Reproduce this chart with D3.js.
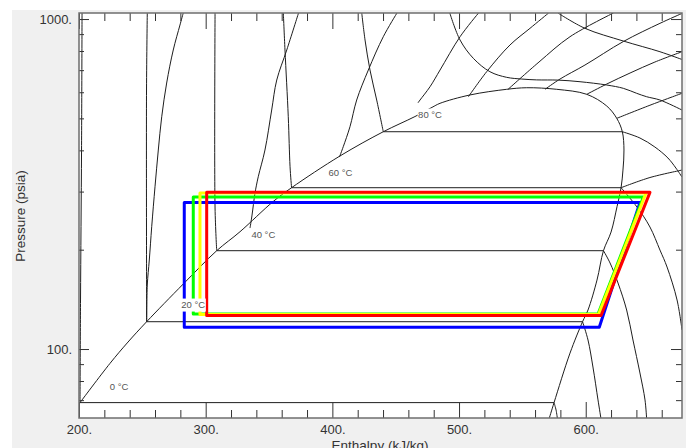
<!DOCTYPE html>
<html>
<head>
<meta charset="utf-8">
<title>Pressure–Enthalpy diagram</title>
<script src="https://cdn.jsdelivr.net/npm/d3@7/dist/d3.min.js"></script>
<style>
  html, body { margin: 0; padding: 0; background: #ffffff; }
  svg { display: block; font-family: "Liberation Sans", Arial, sans-serif; }
</style>
</head>
<body>
<svg id="chart" width="691" height="448"></svg>
<script>
// ---- axis extents and ticks ----
const enthalpyRange = [200, 676];      // kJ/kg
const pressureRange = [61.8, 1043];    // psia
const enthalpyMajorTicks = [200, 300, 400, 500, 600];
const enthalpyMinorTicks = [220, 240, 260, 280, 320, 340, 360, 380, 420, 440, 460, 480,
                            520, 540, 560, 580, 620, 640, 660];
const pressureMajorTicks = [100, 1000];
const pressureMinorTicks = [70, 80, 90, 200, 300, 400, 500, 600, 700, 800, 900];

// ---- saturation dome, [enthalpy, pressure] ----
const saturationDome = [
  [200.8, 68.8], [224.5, 90.5], [238.7, 105], [253.4, 121], [282.3, 157.4], [308.7, 198.6],
  [327.1, 226.7], [353.1, 279.5], [367.8, 308.2], [406, 384.6], [440.2, 455.5], [465.2, 506.4],
  [478.7, 540], [485, 555.4], [508.7, 588.8], [537.6, 612.4], [553.4, 619.2], [577.1, 612.4],
  [600.8, 591.4], [616.6, 545], [624.5, 500.1], [628.9, 455.5], [630.2, 400.9], [629.4, 348.6],
  [627.9, 308.2], [624.7, 269.9], [620, 226.2], [614, 198.6], [608.9, 161.8], [601.8, 131.3],
  [597.5, 121], [587.6, 97.2], [575, 68.8], [571, 61.3]
];

// ---- isotherms (liquid branch, two-phase plateau, vapour branch) ----
const isotherm0 = [[202.4, 1043], [202, 400.9], [201.2, 140.8], [200.8, 68.8],
  [575, 68.8], [576.6, 65.3], [577.7, 61.3]];
const isotherm20 = [[253.9, 1043], [253.3, 609.4], [253.4, 121],
  [597.5, 121], [601.8, 106.5], [605.7, 88.2], [609.7, 70.1], [612.1, 61.3]];
const isotherm40 = [[307.4, 1043], [307.4, 267.5], [308.7, 198.6],
  [614, 198.6], [619.2, 182.3], [625.5, 158.5], [632.3, 131.3], [637.3, 106.5], [642.8, 84.6],
  [646.8, 70.1], [648.1, 61.3]];
const isotherm60 = [[361.3, 1043], [362.6, 805.6], [365.2, 505.7], [366.6, 356.7], [367.8, 308.2],
  [627.9, 308.2], [640.5, 269.3], [650.7, 234.3], [658.6, 199.5], [664.2, 177.2], [672.1, 140.8],
  [676, 114.2]];
const isotherm80 = [[423.2, 1043], [425.8, 863.8], [429.7, 700.6], [435, 568.3], [440.2, 455.5],
  [628.9, 455.5], [642.8, 436], [654.6, 409.4], [664.9, 379.2], [671.2, 353.5], [676, 332]];
const isotherm100 = [[492.7, 1043], [500.8, 863.8], [511.3, 760.1], [524.4, 692.4], [537.6, 665.8],
  [549.5, 657.9], [561.3, 654], [578.4, 653], [595.5, 645.7], [616.6, 631], [629.7, 616.6],
  [640.2, 595.6], [648.1, 581.5], [658.6, 568.3], [676, 530]];
const isotherm120 = [[578.1, 1043], [599.4, 937.2], [629.7, 857.7], [658.6, 796], [676, 754]];

// ---- isentropes ----
const isentrope1 = [[282.3, 1043], [279.7, 959], [274.4, 805.6], [269.2, 639.9], [265.3, 505.7],
  [262.6, 400.9], [260, 310.3], [257.4, 234.8], [255.5, 186.1], [253.9, 156.3], [253.4, 121]];
const isentrope2 = [[373.3, 1043], [364, 805.6], [356.1, 653.4], [352.1, 530], [346.8, 400.9],
  [341.5, 332.7], [338.9, 296.3], [336.6, 254.7], [335, 232.6]];
const isentrope3 = [[451, 1043], [440.2, 884], [428.4, 700.6], [419.2, 568.3], [413.9, 471.7],
  [408.6, 410.3], [405.6, 381.8]];
const isentrope4 = [[515.4, 1043], [500.8, 884], [485, 700.6], [477.1, 623.6], [469.2, 568.3],
  [467.6, 557.3]];
const isentrope5 = [[507.4, 581.5], [521.8, 692.4], [540.2, 834.2], [556, 937.2], [570.7, 1043]];
const isentrope6 = [[538.7, 612.4], [563.1, 740.8], [587.6, 884], [621.9, 1043]];
const isentrope7 = [[567.9, 612.4], [579.7, 657.9], [599.4, 725.4], [629.7, 854.8], [658.6, 970.4],
  [676, 1040]];
const isentrope8 = [[600.8, 591.4], [616.6, 635.4], [635, 686.1], [654.6, 740.8], [676, 796]];
const isentrope9 = [[624.5, 500.1], [650.7, 548], [676, 595.6]];
const isentrope10 = [[627.9, 308.2], [650.7, 330.9], [676, 348.6]];

// ---- refrigeration cycles, corner states ----
const cycleBlue   = [[283.1, 116.4], [283.1, 278],   [642.8, 278],   [610.7, 116.4]];
const cycleGreen  = [[290.2, 127.6], [290.2, 288.8], [645.5, 288.8], [609.7, 127.6]];
const cycleYellow = [[295.5, 127.2], [295.5, 296.9], [647.6, 296.9], [610.1, 127.2]];
const cycleRed    = [[300.8, 126.3], [300.8, 298.4], [650.7, 298.4], [612.1, 126.3]];

// ---- temperature labels ----
const tempLabels = ["0 °C", "20 °C", "40 °C", "60 °C", "80 °C"];
const tempLabelH = [231.6, 290.2, 345.5, 406.4, 477.1];
const tempLabelP = [76.7, 135.9, 222.6, 342.6, 511.7];

// ---------------------------------------------------------------
const svg = d3.select("#chart");
const W = 691, H = 448;
const plot = { left: 79, right: 682, top: 13, bottom: 418 };

const x = d3.scaleLinear().domain(enthalpyRange).range([plot.left, plot.right]);
const y = d3.scaleLog().domain(pressureRange).range([plot.bottom, plot.top]);

// window panel and plotting area
svg.append("rect").attr("x", 0).attr("y", 0).attr("width", W).attr("height", H).attr("fill", "#ffffff");
svg.append("rect").attr("x", 12).attr("y", 10).attr("width", 674).attr("height", H - 10).attr("fill", "#f0f0f0");
svg.append("rect").attr("x", plot.left).attr("y", plot.top)
  .attr("width", plot.right - plot.left).attr("height", plot.bottom - plot.top).attr("fill", "#ffffff");

svg.append("clipPath").attr("id", "plotClip").append("rect")
  .attr("x", plot.left).attr("y", plot.top)
  .attr("width", plot.right - plot.left).attr("height", plot.bottom - plot.top);

const body = svg.append("g").attr("clip-path", "url(#plotClip)");

const smooth = d3.line().x(d => x(d[0])).y(d => y(d[1])).curve(d3.curveCatmullRom.alpha(0.5));
const straight = d3.line().x(d => x(d[0])).y(d => y(d[1]));

function drawCurve(pts) {
  body.append("path").attr("d", pts.length > 2 ? smooth(pts) : straight(pts))
    .attr("fill", "none").attr("stroke", "#1e1e1e").attr("stroke-width", 1);
}

// an isotherm is split at its constant-pressure plateau so the knees stay sharp
function drawIsotherm(pts) {
  for (let i = 0; i < pts.length - 1; i++) {
    if (pts[i][1] === pts[i + 1][1]) {
      drawCurve(pts.slice(0, i + 1));
      drawCurve(pts.slice(i, i + 2));
      drawCurve(pts.slice(i + 1));
      return;
    }
  }
  drawCurve(pts);
}

drawCurve(saturationDome);
[isotherm0, isotherm20, isotherm40, isotherm60, isotherm80, isotherm100, isotherm120].forEach(drawIsotherm);
[isentrope1, isentrope2, isentrope3, isentrope4, isentrope5, isentrope6, isentrope7,
 isentrope8, isentrope9, isentrope10].forEach(drawCurve);

// cycles
const closed = d3.line().x(d => x(d[0])).y(d => y(d[1])).curve(d3.curveLinearClosed);
const cycles = [
  { pts: cycleBlue, color: "#0000ff" },
  { pts: cycleGreen, color: "#00ff00" },
  { pts: cycleYellow, color: "#ffff00" },
  { pts: cycleRed, color: "#ff0000" }
];
cycles.forEach(c => {
  body.append("path").attr("d", closed(c.pts))
    .attr("fill", "none").attr("stroke", c.color)
    .attr("stroke-width", 3).attr("stroke-linejoin", "round");
});

// temperature labels on white boxes
tempLabels.forEach((t, i) => {
  const g = body.append("g");
  const txt = g.append("text")
    .attr("x", x(tempLabelH[i])).attr("y", y(tempLabelP[i]))
    .attr("text-anchor", "middle").attr("dy", "0.35em")
    .attr("font-size", 9.5).attr("fill", "#555555")
    .text(t);
  const bb = txt.node().getBBox();
  g.insert("rect", "text")
    .attr("x", bb.x - 0.5).attr("y", y(tempLabelP[i]) - 6.5)
    .attr("width", bb.width + 1).attr("height", 13)
    .attr("fill", "#ffffff");
});

// axes: ticks point inward on all four sides
function styleAxis(g) {
  g.selectAll(".tick line").attr("stroke", "#333333");
  g.selectAll(".tick text").attr("fill", "#333333").attr("font-size", 13)
    .attr("font-family", "'Liberation Sans', Arial, sans-serif");
  g.select(".domain").remove();
}
const fmt = d => d + ".";

const axisB = svg.append("g").attr("transform", `translate(0,${plot.bottom})`);
axisB.append("g").call(d3.axisBottom(x).tickValues(enthalpyMajorTicks).tickSize(-16).tickPadding(7).tickFormat(fmt)).call(styleAxis);
axisB.append("g").call(d3.axisBottom(x).tickValues(enthalpyMinorTicks).tickSize(-8).tickFormat("")).call(styleAxis);

const axisT = svg.append("g").attr("transform", `translate(0,${plot.top})`);
axisT.append("g").call(d3.axisTop(x).tickValues(enthalpyMajorTicks).tickSize(-16).tickFormat("")).call(styleAxis);
axisT.append("g").call(d3.axisTop(x).tickValues(enthalpyMinorTicks).tickSize(-8).tickFormat("")).call(styleAxis);

const axisL = svg.append("g").attr("transform", `translate(${plot.left},0)`);
axisL.append("g").call(d3.axisLeft(y).tickValues(pressureMajorTicks).tickSize(-10).tickPadding(7).tickFormat(fmt)).call(styleAxis);
axisL.append("g").call(d3.axisLeft(y).tickValues(pressureMinorTicks).tickSize(-5).tickFormat("")).call(styleAxis);

const axisR = svg.append("g").attr("transform", `translate(${plot.right},0)`);
axisR.append("g").call(d3.axisRight(y).tickValues(pressureMajorTicks).tickSize(-11).tickFormat("")).call(styleAxis);
axisR.append("g").call(d3.axisRight(y).tickValues(pressureMinorTicks).tickSize(-6).tickFormat("")).call(styleAxis);

// plot frame
svg.append("rect").attr("x", plot.left).attr("y", plot.top)
  .attr("width", plot.right - plot.left).attr("height", plot.bottom - plot.top)
  .attr("fill", "none").attr("stroke", "#6e6e6e").attr("stroke-width", 1.5);

// axis titles
svg.append("text").attr("x", 380).attr("y", 450).attr("text-anchor", "middle")
  .attr("font-size", 13.5).attr("fill", "#333333").text("Enthalpy (kJ/kg)");
svg.append("text").attr("transform", "translate(24.5,216) rotate(-90)").attr("text-anchor", "middle")
  .attr("font-size", 13.5).attr("fill", "#333333").text("Pressure (psia)");
</script>
</body>
</html>
